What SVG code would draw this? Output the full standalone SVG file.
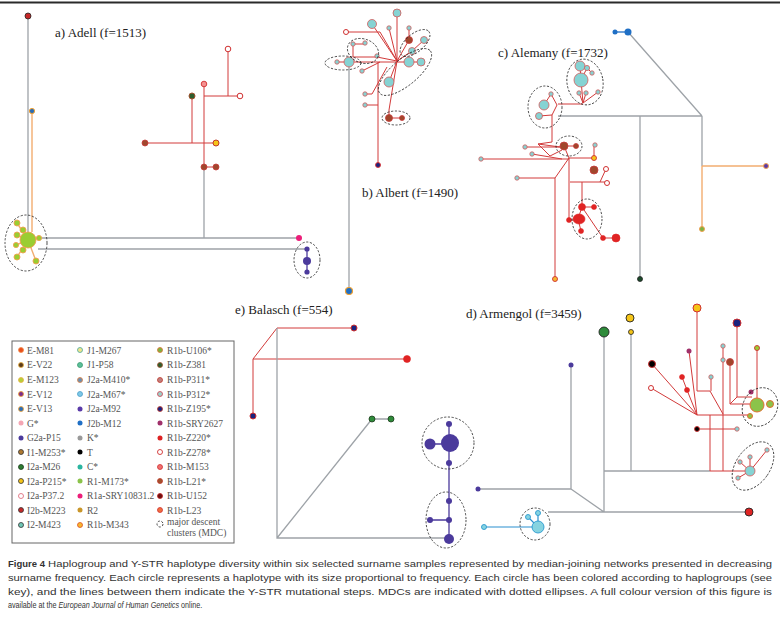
<svg xmlns="http://www.w3.org/2000/svg" width="780" height="632" viewBox="0 0 780 632">
<style>
.gl{stroke:#9ea3a8;stroke-width:1.3;fill:none}
.rl{stroke:#d23a3a;stroke-width:1;fill:none}
.ol{stroke:#f2ad70;stroke-width:1.4;fill:none}
.pl{stroke:#4b3a9c;stroke-width:1.3;fill:none}
.bl{stroke:#2a8fd0;stroke-width:1.2;fill:none}
.md{fill:none;stroke:#222;stroke-width:0.8;stroke-dasharray:2.2 1.6}
.tl{fill:#86d3d3;stroke:#d35b5b;stroke-width:0.8}
.br{fill:#a0472d;stroke:#c83a3a;stroke-width:0.8}
.wh{fill:#fff;stroke:#d03030;stroke-width:1}
.rd{fill:#e02424;stroke:#e02424;stroke-width:0.6}
.gr{fill:#9acd32;stroke:#f0a050;stroke-width:0.9}
.pu{fill:#4b3a9c}
.lb{fill:#86d3e0;stroke:#2a9ad0;stroke-width:0.9}
.lab{font-family:"Liberation Serif",serif;font-size:13px;fill:#222}
.lg{font-family:"Liberation Serif",serif;font-size:9.5px;fill:#555}
.cap{font-family:"Liberation Sans",Arial,sans-serif;font-size:9.5px;fill:#333}
</style>
<rect width="780" height="632" fill="#fff"/>
<line x1="0" y1="2.5" x2="780" y2="2.5" stroke="#2a2a2a" stroke-width="2"/>

<g id="connectors">
<path class="gl" d="M28,16V238M40,238H299M38,249H305M204,238V167"/>
<path class="ol" d="M32,111V232M28,240L17,223M28,240L23,230M28,240L17,235M28,240L16,245M28,240L23,250M28,240L17,257M28,240L39,238M28,240L36,261"/>
<path class="rl" d="M204,167V84M204,167H216M145,143H216M192,143V96M204,96H240M228,96V49"/>
<path class="pl" d="M307,249V272"/>
<path class="gl" d="M349,62V291"/>
<path class="rl" d="M397,13V61M372,24L397,61M389,28L397,61M346,32H380L397,61M409,40V28M409,40L397,61M424,40L412,51L397,61M337,62H421M353,44H365M353,44V57H377L397,61M389,82L397,61M362,71L380,62M365,94H372L387,67M365,105H378M378,62V165M397,61L389,110V118M389,118H402"/>
<path class="gl" d="M628,32L702,116M558,116H702M640,116V279M702,116V166"/>
<path class="ol" d="M702,166H766M702,166V229"/>
<path d="M615,32H628" stroke="#1f6fc5" stroke-width="1.3"/>
<path class="rl" d="M580,66L581,80M587,68L592,73M587,68L581,80M581,80L583,103M579,93L583,103M586,93L583,103M598,92L583,103M558,104H583M551,94L557,105L552,115L539,116M544,105L551,94M552,115V142L538,144L560,147M538,144L550,156L562,150M525,147L560,147M532,154L562,159M481,159H569M564,146H576M564,146L569,158M569,158H594M594,145V158M569,158L555,178V279M517,178H555M569,158V220M570,182H607M582,182V207M582,207H594M582,207L603,238H616M578,219L582,207M578,219L581,231M569,220H578M606,169L600,182"/>
<path class="rl" d="M277,328H354M277,328L253,359H407M253,359V416"/>
<path class="gl" d="M277,328V538H449M277,538L372,419M372,419H391"/>
<path class="pl" d="M449,424V539M430,520H449M430,444H450"/>
<path class="gl" d="M631,332V471M604,332V512M604,471H710M571,365V489M478,489H571M571,489L604,512M548,512H749"/>
<path class="bl" d="M484,527H538M538,527V513M538,527L528,517"/>
<path class="rl" d="M710,471H750M697,308V391H710L723,414M711,377V391M737,323V397M689,351L697,415M652,364L697,415M651,388L697,415M682,377L687,390L697,415M723,346V414M730,362V404M737,397L730,404H750M737,397H752M757,348V398M697,415H750M697,429H737M710,415V471M723,414V471M750,471L740,462M750,471L750,457M750,471L767,450M750,471L738,478"/>
</g>

<g id="panel-a">
<g id="a1"><circle cx="28" cy="16" r="3" fill="#c62828" stroke="#222" stroke-width="0.8"/></g>
<g id="a2"><circle cx="32" cy="111" r="2.6" fill="#2a6db5" stroke="#f0a030" stroke-width="1"/></g>
<g id="a3"><circle class="gr" cx="28" cy="240" r="8"/></g>
<g id="a4"><circle class="gr" cx="17" cy="223" r="3"/></g>
<g id="a5"><circle class="gr" cx="23" cy="230" r="3"/></g>
<g id="a6"><circle class="gr" cx="17" cy="235" r="3"/></g>
<g id="a7"><circle class="gr" cx="16" cy="245" r="2.6"/></g>
<g id="a8"><circle class="gr" cx="23" cy="250" r="3"/></g>
<g id="a9"><circle class="gr" cx="17" cy="257" r="3"/></g>
<g id="a10"><circle class="gr" cx="39" cy="238" r="2.6"/></g>
<g id="a11"><circle class="gr" cx="36" cy="261" r="3"/></g>
<g id="a12"><circle cx="299" cy="238" r="3" fill="#ec1e79"/></g>
<g id="a13"><circle class="pu" cx="307" cy="249" r="2.6"/></g>
<g id="a14"><circle class="pu" cx="307" cy="261" r="4"/></g>
<g id="a15"><circle class="pu" cx="307" cy="272" r="2.6"/></g>
<g id="a16"><circle class="br" cx="204" cy="167" r="3"/></g>
<g id="a17"><circle class="br" cx="216" cy="167" r="3"/></g>
<g id="a18"><circle cx="204" cy="84" r="2.8" fill="#f49090" stroke="#d03030" stroke-width="0.9"/></g>
<g id="a19"><circle class="br" cx="145" cy="143" r="3"/></g>
<g id="a20"><circle cx="216" cy="143" r="3" fill="#f5c518" stroke="#c0392b" stroke-width="1"/></g>
<g id="a21"><circle cx="192" cy="96" r="3" fill="#2e5d2e" stroke="#a0522d" stroke-width="1"/></g>
<g id="a22"><circle class="wh" cx="240" cy="96" r="2.8"/></g>
<g id="a23"><circle class="wh" cx="228" cy="49" r="2.8"/></g>
<ellipse class="md" cx="26" cy="243" rx="21" ry="28"/>
<ellipse class="md" cx="307" cy="260" rx="13" ry="18"/>
<text class="lab" x="55" y="37">a) Adell (f=1513)</text>
</g>

<g id="panel-b">
<g id="b1"><circle class="tl" cx="397" cy="13" r="4"/></g>
<g id="b2"><circle class="tl" cx="372" cy="24" r="4.5"/></g>
<g id="b3"><circle class="tl" cx="389" cy="28" r="2.2"/></g>
<g id="b4"><circle class="tl" cx="409" cy="28" r="2.2"/></g>
<g id="b5"><circle class="tl" cx="424" cy="40" r="3.5"/></g>
<g id="b6"><circle class="tl" cx="353" cy="44" r="2.2"/></g>
<g id="b7"><circle class="tl" cx="365" cy="43" r="2.2"/></g>
<g id="b8"><circle class="tl" cx="412" cy="51" r="3.5"/></g>
<g id="b9"><circle class="tl" cx="377" cy="56" r="2.2"/></g>
<g id="b10"><circle class="tl" cx="337" cy="62" r="2.2"/></g>
<g id="b11"><circle class="tl" cx="349" cy="62" r="5"/></g>
<g id="b12"><circle class="tl" cx="409" cy="62" r="5"/></g>
<g id="b13"><circle class="tl" cx="421" cy="62" r="4"/></g>
<g id="b14"><circle class="tl" cx="362" cy="71" r="2.2"/></g>
<g id="b15"><circle class="tl" cx="389" cy="82" r="5"/></g>
<g id="b16"><circle class="tl" cx="365" cy="94" r="2.2"/></g>
<g id="b17"><circle class="tl" cx="365" cy="105" r="2.2"/></g>
<g id="b18"><circle class="wh" cx="346" cy="32" r="2.5"/></g>
<g id="b19"><circle class="br" cx="409" cy="40" r="3.5"/></g>
<g id="b20"><circle class="br" cx="389" cy="118" r="3.5"/></g>
<g id="b21"><circle class="br" cx="402" cy="118" r="2.5"/></g>
<g id="b22"><circle cx="378" cy="165" r="2.5" fill="#1a237e" stroke="#e03030" stroke-width="0.9"/></g>
<g id="b23"><circle cx="349" cy="291" r="3.5" fill="#1f6fc5" stroke="#f0a030" stroke-width="1.2"/></g>
<ellipse class="md" cx="343" cy="63" rx="18" ry="7"/>
<ellipse class="md" cx="363" cy="51" rx="16" ry="12" transform="rotate(20 363 51)"/>
<ellipse class="md" cx="415" cy="43" rx="18" ry="9" transform="rotate(-40 415 43)"/>
<ellipse class="md" cx="405" cy="72" rx="33" ry="13" transform="rotate(-40 405 72)"/>
<ellipse class="md" cx="396" cy="118" rx="14" ry="7"/>
<text class="lab" x="362" y="197">b) Albert (f=1490)</text>
</g>

<g id="panel-c">
<g id="c1"><circle cx="615" cy="32" r="2.5" fill="#1f6fc5"/></g>
<g id="c2"><circle cx="628" cy="32" r="3.5" fill="#1f6fc5"/></g>
<g id="c3"><circle cx="640" cy="279" r="2.5" fill="#1b4a2a" stroke="#222" stroke-width="0.8"/></g>
<g id="c4"><circle cx="766" cy="166" r="2.5" fill="#5a3aa8" stroke="#f0a050" stroke-width="1"/></g>
<g id="c5"><circle cx="702" cy="229" r="2.5" fill="#7cb342" stroke="#f0a050" stroke-width="1"/></g>
<g id="c6"><circle class="tl" cx="580" cy="66" r="5"/></g>
<g id="c7"><circle class="tl" cx="587" cy="68" r="2.6"/></g>
<g id="c8"><circle class="tl" cx="592" cy="73" r="2.2"/></g>
<g id="c9"><circle class="tl" cx="581" cy="80" r="7"/></g>
<g id="c10"><circle class="tl" cx="579" cy="93" r="2.2"/></g>
<g id="c11"><circle class="tl" cx="586" cy="93" r="2.2"/></g>
<g id="c12"><circle class="tl" cx="598" cy="92" r="2.2"/></g>
<g id="c13"><circle class="tl" cx="551" cy="94" r="2.2"/></g>
<g id="c14"><circle class="tl" cx="544" cy="105" r="5"/></g>
<g id="c15"><circle class="tl" cx="539" cy="116" r="3.5"/></g>
<g id="c16"><circle class="tl" cx="525" cy="147" r="2.2"/></g>
<g id="c17"><circle class="tl" cx="532" cy="154" r="2.2"/></g>
<g id="c18"><circle class="tl" cx="481" cy="159" r="2.2"/></g>
<g id="c19"><circle class="tl" cx="595" cy="145" r="2.2"/></g>
<g id="c20"><circle class="tl" cx="517" cy="178" r="2.2"/></g>
<g id="c21"><circle class="br" cx="564" cy="146" r="4"/></g>
<g id="c22"><circle class="br" cx="576" cy="146" r="2.5"/></g>
<g id="c23"><circle class="br" cx="594" cy="170" r="4"/></g>
<g id="c24"><circle cx="594" cy="158" r="2.5" fill="#f5c518" stroke="#d03030" stroke-width="0.9"/></g>
<g id="c25"><circle cx="555" cy="279" r="2.5" fill="#f5b830" stroke="#d03030" stroke-width="0.9"/></g>
<g id="c26"><circle class="wh" cx="606" cy="169" r="2.5"/></g>
<g id="c27"><circle class="wh" cx="607" cy="183" r="2.5"/></g>
<g id="c28"><circle class="rd" cx="582" cy="207" r="3.5"/></g>
<g id="c29"><circle class="rd" cx="594" cy="207" r="2.5"/></g>
<g id="c30"><ellipse class="rd" cx="579" cy="219" rx="6" ry="5"/></g>
<g id="c31"><circle class="rd" cx="569" cy="220" r="2.5"/></g>
<g id="c32"><circle class="rd" cx="581" cy="231" r="2.5"/></g>
<g id="c33"><circle class="rd" cx="603" cy="238" r="2.5"/></g>
<g id="c34"><circle class="rd" cx="616" cy="238" r="4"/></g>
<ellipse class="md" cx="585" cy="82" rx="18" ry="23" transform="rotate(-10 585 82)"/>
<ellipse class="md" cx="545" cy="107" rx="17" ry="21"/>
<ellipse class="md" cx="569" cy="146" rx="13" ry="10"/>
<ellipse class="md" cx="587" cy="219" rx="15" ry="20"/>
<text class="lab" x="498" y="57">c) Alemany (f=1732)</text>
</g>

<g id="panel-e">
<g id="e1"><circle cx="354" cy="328" r="3" fill="#1a237e" stroke="#d03030" stroke-width="1"/></g>
<g id="e2"><circle class="rd" cx="407" cy="359" r="3.5"/></g>
<g id="e3"><circle cx="253" cy="416" r="3" fill="#1a237e" stroke="#d03030" stroke-width="1"/></g>
<g id="e4"><circle cx="372" cy="419" r="3" fill="#2e8b3a" stroke="#1a3a1a" stroke-width="0.8"/></g>
<g id="e5"><circle cx="391" cy="419" r="3" fill="#2e8b3a" stroke="#1a3a1a" stroke-width="0.8"/></g>
<g id="e6"><circle class="pu" cx="449" cy="424" r="3"/></g>
<g id="e7"><circle class="pu" cx="450" cy="443" r="9"/></g>
<g id="e8"><circle class="pu" cx="430" cy="444" r="5.5"/></g>
<g id="e9"><circle class="pu" cx="449" cy="463" r="3"/></g>
<g id="e10"><circle class="pu" cx="449" cy="501" r="3"/></g>
<g id="e11"><circle class="pu" cx="430" cy="520" r="3"/></g>
<g id="e12"><circle class="pu" cx="449" cy="520" r="3"/></g>
<g id="e13"><circle class="pu" cx="449" cy="539" r="5"/></g>
<ellipse class="md" cx="448" cy="443" rx="26" ry="26"/>
<ellipse class="md" cx="446" cy="520" rx="20" ry="28"/>
<text class="lab" x="235" y="314">e) Balasch (f=554)</text>
</g>

<g id="panel-d">
<g id="d1"><circle cx="604" cy="332" r="5" fill="#2e8b3a" stroke="#222" stroke-width="0.9"/></g>
<g id="d2"><circle cx="630" cy="318" r="4" fill="#f5c518" stroke="#222" stroke-width="0.9"/></g>
<g id="d3"><circle cx="631" cy="332" r="2.5" fill="#f5c518" stroke="#222" stroke-width="0.8"/></g>
<g id="d4"><circle class="pu" cx="571" cy="365" r="2.5"/></g>
<g id="d5"><circle class="pu" cx="478" cy="489" r="2.5"/></g>
<g id="d6"><circle cx="749" cy="512" r="4" fill="#e02424" stroke="#222" stroke-width="0.9"/></g>
<g id="d7"><circle class="lb" cx="538" cy="527" r="6"/></g>
<g id="d8"><circle class="lb" cx="528" cy="517" r="2.5"/></g>
<g id="d9"><circle class="lb" cx="538" cy="513" r="2.5"/></g>
<g id="d10"><circle class="lb" cx="484" cy="527" r="2.5"/></g>
<g id="d11"><circle cx="697" cy="308" r="4" fill="#f5c518" stroke="#d03030" stroke-width="1"/></g>
<g id="d12"><circle cx="737" cy="323" r="4" fill="#1a237e" stroke="#d03030" stroke-width="1"/></g>
<g id="d13"><circle cx="689" cy="351" r="2.5" fill="#a0306a"/></g>
<g id="d14"><circle class="tl" cx="723" cy="346" r="2.2"/></g>
<g id="d15"><circle class="tl" cx="723" cy="360" r="2.2"/></g>
<g id="d16"><circle class="tl" cx="711" cy="377" r="2.2"/></g>
<g id="d17"><circle class="br" cx="730" cy="362" r="3.5"/></g>
<g id="d18"><circle cx="757" cy="348" r="2.5" fill="#9acd32" stroke="#d03030" stroke-width="0.9"/></g>
<g id="d19"><circle cx="652" cy="364" r="3.5" fill="#000" stroke="#d03030" stroke-width="1"/></g>
<g id="d20"><circle class="rd" cx="682" cy="377" r="2.5"/></g>
<g id="d21"><circle class="rd" cx="687" cy="390" r="2.5"/></g>
<g id="d22"><circle class="wh" cx="651" cy="388" r="2.5"/></g>
<g id="d23"><circle cx="697" cy="429" r="2.5" fill="#000" stroke="#d03030" stroke-width="0.9"/></g>
<g id="d24"><circle class="tl" cx="737" cy="429" r="2.2"/></g>
<g id="d25"><circle cx="757" cy="405" r="7" fill="#8bc34a" stroke="#e07030" stroke-width="1"/></g>
<g id="d26"><circle cx="770" cy="404" r="3.5" fill="#8bc34a" stroke="#e07030" stroke-width="1"/></g>
<g id="d27"><circle cx="750" cy="416" r="2.5" fill="#8bc34a" stroke="#e07030" stroke-width="1"/></g>
<g id="d28"><circle cx="751" cy="392" r="2.5" fill="#a0306a"/></g>
<g id="d29"><circle class="tl" cx="750" cy="471" r="5"/></g>
<g id="d30"><circle class="tl" cx="740" cy="462" r="2.2"/></g>
<g id="d31"><circle class="tl" cx="750" cy="457" r="2.2"/></g>
<g id="d32"><circle class="tl" cx="767" cy="450" r="2.2"/></g>
<g id="d33"><circle class="tl" cx="738" cy="478" r="2.2"/></g>
<ellipse class="md" cx="760" cy="407" rx="17" ry="20" transform="rotate(30 760 407)"/>
<ellipse class="md" cx="753" cy="466" rx="17" ry="27" transform="rotate(35 753 466)"/>
<ellipse class="md" cx="535" cy="524" rx="15" ry="16"/>
<text class="lab" x="466" y="318">d) Armengol (f=3459)</text>
</g>

<g id="legend">
<rect x="12" y="341" width="222" height="202" fill="none" stroke="#666" stroke-width="1"/>
<g id="lg-c1">
<circle cx="21" cy="350" r="2.5" fill="#e94e1b" stroke="#f08a4b" stroke-width="0.8"/><text class="lg" x="27" y="353.5">E-M81</text>
<circle cx="21" cy="365" r="2.5" fill="#5a3a1a" stroke="#e8b040" stroke-width="0.8"/><text class="lg" x="27" y="368">E-V22</text>
<circle cx="21" cy="380" r="2.5" fill="#b5cf3a" stroke="#e8b040" stroke-width="0.8"/><text class="lg" x="27" y="383">E-M123</text>
<circle cx="21" cy="394" r="2.5" fill="#7b2d8b" stroke="#f0a030" stroke-width="0.8"/><text class="lg" x="27" y="397.5">E-V12</text>
<circle cx="21" cy="409" r="2.5" fill="#2a6db5" stroke="#f0a030" stroke-width="0.8"/><text class="lg" x="27" y="412">E-V13</text>
<circle cx="21" cy="423" r="2.5" fill="#f4a6b4"/><text class="lg" x="27" y="426.5">G*</text>
<circle cx="21" cy="438" r="2.5" fill="#4b3a9c"/><text class="lg" x="27" y="441">G2a-P15</text>
<circle cx="21" cy="452" r="2.5" fill="#b07a30" stroke="#333" stroke-width="0.8"/><text class="lg" x="27" y="455.5">I1-M253*</text>
<circle cx="21" cy="467" r="2.5" fill="#2e7d32" stroke="#1a3a1a" stroke-width="0.8"/><text class="lg" x="27" y="470">I2a-M26</text>
<circle cx="21" cy="481" r="2.5" fill="#f5c518" stroke="#333" stroke-width="0.8"/><text class="lg" x="27" y="484.5">I2a-P215*</text>
<circle cx="21" cy="496" r="2.5" fill="#fff" stroke="#e07080" stroke-width="0.9"/><text class="lg" x="27" y="499">I2a-P37.2</text>
<circle cx="21" cy="510" r="2.5" fill="#c62828" stroke="#333" stroke-width="0.8"/><text class="lg" x="27" y="513.5">I2b-M223</text>
<circle cx="21" cy="525" r="2.5" fill="#6fc7b5" stroke="#333" stroke-width="0.8"/><text class="lg" x="27" y="528">I2-M423</text>
</g>
<g id="lg-c2">
<circle cx="80" cy="350" r="2.5" fill="#f0e68c" stroke="#4aa8a0" stroke-width="0.8"/><text class="lg" x="87" y="353.5">J1-M267</text>
<circle cx="80" cy="365" r="2.5" fill="#5cbf9a" stroke="#3a9a70" stroke-width="0.8"/><text class="lg" x="87" y="368">J1-P58</text>
<circle cx="80" cy="380" r="2.5" fill="#6d8fb0" stroke="#e08040" stroke-width="0.8"/><text class="lg" x="87" y="383">J2a-M410*</text>
<circle cx="80" cy="394" r="2.5" fill="#7ec8e8" stroke="#4aa0c8" stroke-width="0.8"/><text class="lg" x="87" y="397.5">J2a-M67*</text>
<circle cx="80" cy="409" r="2.5" fill="#5a3aa8"/><text class="lg" x="87" y="412">J2a-M92</text>
<circle cx="80" cy="423" r="2.5" fill="#1f6fc5"/><text class="lg" x="87" y="426.5">J2b-M12</text>
<circle cx="80" cy="438" r="2.5" fill="#999"/><text class="lg" x="87" y="441">K*</text>
<circle cx="80" cy="452" r="2.5" fill="#000"/><text class="lg" x="87" y="455.5">T</text>
<circle cx="80" cy="467" r="2.5" fill="#2bb5a0"/><text class="lg" x="87" y="470">C*</text>
<circle cx="80" cy="481" r="2.5" fill="#8bc34a"/><text class="lg" x="87" y="484.5">R1-M173*</text>
<circle cx="80" cy="496" r="2.5" fill="#ec1e79"/><text class="lg" x="87" y="499">R1a-SRY10831.2</text>
<circle cx="80" cy="510" r="2.5" fill="#c9962a"/><text class="lg" x="87" y="513.5">R2</text>
<circle cx="80" cy="525" r="2.5" fill="#f5b830" stroke="#e05020" stroke-width="0.8"/><text class="lg" x="87" y="528">R1b-M343</text>
</g>
<g id="lg-c3">
<circle cx="160" cy="350" r="2.5" fill="#7cb342" stroke="#e07030" stroke-width="0.8"/><text class="lg" x="167" y="353.5">R1b-U106*</text>
<circle cx="160" cy="365" r="2.5" fill="#2e5d2e" stroke="#a0522d" stroke-width="0.8"/><text class="lg" x="167" y="368">R1b-Z381</text>
<circle cx="160" cy="380" r="2.5" fill="#c08080" stroke="#c0392b" stroke-width="0.8"/><text class="lg" x="167" y="383">R1b-P311*</text>
<circle cx="160" cy="394" r="2.5" fill="#9ed0c8" stroke="#d04050" stroke-width="0.8"/><text class="lg" x="167" y="397.5">R1b-P312*</text>
<circle cx="160" cy="409" r="2.5" fill="#1a237e" stroke="#c0392b" stroke-width="0.8"/><text class="lg" x="167" y="412">R1b-Z195*</text>
<circle cx="160" cy="423" r="2.5" fill="#a0306a"/><text class="lg" x="167" y="426.5">R1b-SRY2627</text>
<circle cx="160" cy="438" r="2.5" fill="#dd2222"/><text class="lg" x="167" y="441">R1b-Z220*</text>
<circle cx="160" cy="452" r="2.5" fill="#fff" stroke="#d03030" stroke-width="0.9"/><text class="lg" x="167" y="455.5">R1b-Z278*</text>
<circle cx="160" cy="467" r="2.5" fill="#f07070" stroke="#d03030" stroke-width="0.8"/><text class="lg" x="167" y="470">R1b-M153</text>
<circle cx="160" cy="481" r="2.5" fill="#a0522d" stroke="#c0392b" stroke-width="0.8"/><text class="lg" x="167" y="484.5">R1b-L21*</text>
<circle cx="160" cy="496" r="2.5" fill="#6a1010" stroke="#c02020" stroke-width="0.8"/><text class="lg" x="167" y="499">R1b-U152</text>
<circle cx="160" cy="510" r="2.5" fill="#f07040" stroke="#d03030" stroke-width="0.8"/><text class="lg" x="167" y="513.5">R1b-L23</text>
<circle cx="160" cy="524" r="3" class="md"/><text class="lg" x="167" y="525">major descent</text>
<text class="lg" x="167" y="536">clusters (MDC)</text>
</g>
</g>

<g id="caption">
<text class="cap" x="8" y="567" font-weight="bold">Figure 4</text>
<text class="cap" x="48" y="567" textLength="724" lengthAdjust="spacingAndGlyphs">Haplogroup and Y-STR haplotype diversity within six selected surname samples represented by median-joining networks presented in decreasing</text>
<text class="cap" x="8" y="581" textLength="764" lengthAdjust="spacingAndGlyphs">surname frequency. Each circle represents a haplotype with its size proportional to frequency. Each circle has been colored according to haplogroups (see</text>
<text class="cap" x="8" y="594.5" textLength="764" lengthAdjust="spacingAndGlyphs">key), and the lines between them indicate the Y-STR mutational steps. MDCs are indicated with dotted ellipses. A full colour version of this figure is</text>
<g transform="translate(8,608) scale(0.76,1)">
<text class="cap" x="0" y="0">available at the <tspan font-style="italic">European Journal of Human Genetics</tspan> online.</text>
</g>
</g>
</svg>
